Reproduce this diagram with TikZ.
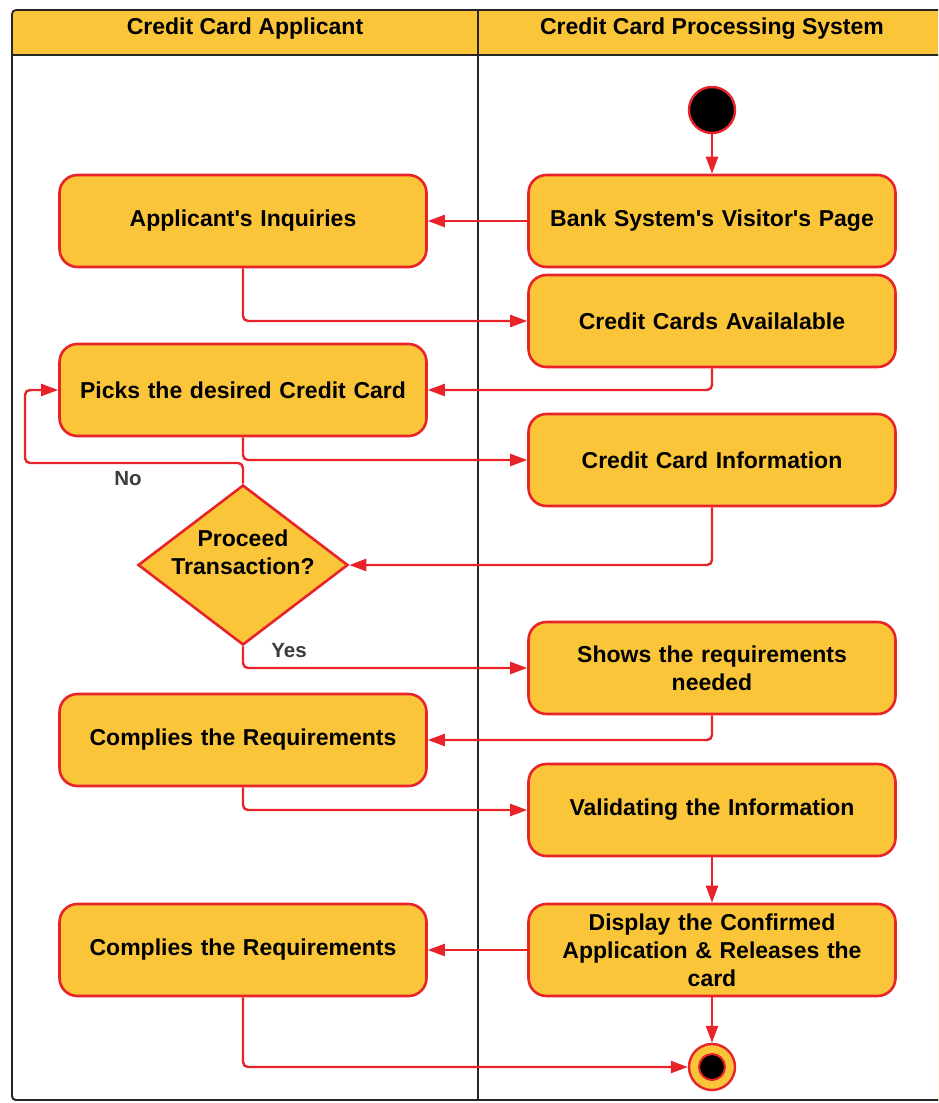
\documentclass[tikz,border=0pt]{standalone}
\usepackage{fontspec}
\setmainfont{Liberation Sans}
\usetikzlibrary{arrows.meta,shapes.geometric}
\definecolor{boxfill}{HTML}{FBC53A}
\definecolor{boxline}{HTML}{E8232A}
\definecolor{frameline}{HTML}{262626}
\definecolor{lbl}{HTML}{3C3C3C}
\newcommand{\q}{\textquotesingle}
\tikzset{
  x=1pt, y=-1pt,
  act/.style={draw=boxline, fill=boxfill, line width=2.6pt, rounded corners=18pt,
    minimum width=367pt, minimum height=92pt, text width=350pt, align=center,
    font=\bfseries\fontsize{23}{28}\selectfont, inner sep=2pt},
  flow/.style={draw=boxline, line width=2.4pt, rounded corners=5pt,
    -{Triangle[length=17pt,width=12pt]}},
  lanehead/.style={font=\bfseries\fontsize{23}{26}\selectfont},
  guard/.style={font=\bfseries\fontsize{20.5}{22}\selectfont, text=lbl}
}
\begin{document}
\begin{tikzpicture}
\useasboundingbox (0,0) rectangle (938,1103);
\clip (0,0) rectangle (938,1103);
\fill[white] (0,0) rectangle (938,1103);
% swimlanes
\draw[frameline, line width=1.8pt, fill=boxfill, rounded corners=4pt] (12,1100) -- (12,10) -- (945,10) -- (945,1100) -- cycle;
\fill[white] (13,55) rectangle (944,1099);
\draw[frameline, line width=1.8pt, rounded corners=4pt] (12,55) -- (12,1100) -- (945,1100);
\draw[frameline, line width=1.8pt] (12,55) -- (945,55);
\draw[frameline, line width=1.8pt] (478,10) -- (478,1100);
\node[lanehead] (h1) at (245,29) {Credit Card Applicant};
\node[lanehead] (h2) at (712,29) {Credit Card Processing System};
% nodes
\node[circle, draw=boxline, fill=black, line width=2.4pt, minimum size=46pt, inner sep=0pt] (start) at (712,110) {};
\node[act] (bank) at (712,221) {Bank System\q s Visitor\q s Page};
\node[act] (inq) at (243,221) {Applicant\q s Inquiries};
\node[act] (avail) at (712,321) {Credit Cards Availalable};
\node[act] (pick) at (243,390) {Picks the desired Credit Card};
\node[act] (info) at (712,460) {Credit Card Information};
\node[diamond, draw=boxline, fill=boxfill, line width=2.6pt, minimum width=210pt, minimum height=160pt, inner sep=0pt] (dec) at (243,565) {};
\node[align=center, font=\bfseries\fontsize{23}{28}\selectfont] (dectext) at (243,552) {Proceed\\Transaction?};
\node[act] (shows) at (712,668) {Shows the requirements\\needed};
\node[act] (comp1) at (243,740) {Complies the Requirements};
\node[act] (valid) at (712,810) {Validating the Information};
\node[act] (disp) at (712,950) {Display the Confirmed\\Application \& Releases the\\card};
\node[act] (comp2) at (243,950) {Complies the Requirements};
\node[circle, draw=boxline, fill=boxfill, line width=2.4pt, minimum size=46pt, inner sep=0pt] (end) at (712,1067) {};
\node[circle, draw=boxline, fill=black, line width=2pt, minimum size=26pt, inner sep=0pt] (endin) at (712,1067) {};
% connectors
\draw[flow] (start) -- (bank);
\draw[flow] (bank) -- (inq);
\draw[flow] (inq.south) |- (avail.west);
\draw[flow] (avail.south) |- (pick.east);
\draw[flow] (pick.south) |- (info.west);
\draw[flow] (info.south) |- (dec.east);
\coordinate (nobend) at (25,463);
\draw[flow] (dec.north) |- (nobend) |- (pick.west);
\draw[flow] (dec.south) |- (shows.west);
\draw[flow] (shows.south) |- (comp1.east);
\draw[flow] (comp1.south) |- (valid.west);
\draw[flow] (valid) -- (disp);
\draw[flow] (disp) -- (comp2);
\draw[flow] (disp) -- (end);
\draw[flow] (comp2.south) |- (end.west);
% guards
\node[guard] (no) at (128,479) {No};
\node[guard] (yes) at (289,651) {Yes};
\end{tikzpicture}
\end{document}
